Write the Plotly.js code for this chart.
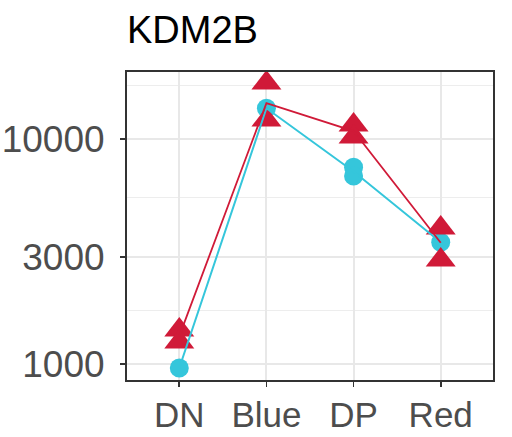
<!DOCTYPE html>
<html>
<head>
<meta charset="utf-8">
<script src="https://cdn.plot.ly/plotly-3.0.1.min.js"></script>
<style>html,body{margin:0;padding:0;background:#fff}#chart{width:512px;height:437px}</style>
</head>
<body>
<div id="chart"></div>
<script>
// Categories
const categories = ["DN", "Blue", "DP", "Red"];

// Replicate points (cyan circles)
const cyanX = ["DN", "Blue", "DP", "DP", "Red"];
const cyanY = [960, 13700, 7500, 6850, 3480];
// Replicate points (red triangles)
const redX = ["DN", "DN", "Blue", "Blue", "DP", "DP", "Red", "Red"];
const redY = [1416, 1252, 17740, 12150, 11540, 10200, 4020, 2900];

// Mean lines
const cyanLine = [960, 13700, 7175, 3480];
const redLine = [1330, 14450, 10850, 3460];

// Tick labels
const yTickVals = [1000, 3000, 10000];
const yTickText = ["1000", "3000", "10000"];
const yMinorVals = [1732, 5477, 17320];

const cyan = "#35C6DB";
const red = "#D01A38";

const traces = [
  {x: cyanX, y: cyanY, type: "scatter", mode: "markers",
   marker: {symbol: "circle", size: 19, color: cyan, line: {width: 0}}, showlegend: false, hoverinfo: "skip"},
  {x: redX, y: redY, type: "scatter", mode: "markers",
   marker: {symbol: "triangle-up", size: 26, color: red, line: {width: 0}}, showlegend: false, hoverinfo: "skip"},
  {x: categories, y: cyanLine, type: "scatter", mode: "lines",
   line: {color: cyan, width: 2}, showlegend: false, hoverinfo: "skip"},
  {x: categories, y: redLine, type: "scatter", mode: "lines",
   line: {color: red, width: 1.8}, showlegend: false, hoverinfo: "skip"}
];

const layout = {
  width: 512, height: 437,
  margin: {l: 127, r: 19, t: 72, b: 57},
  paper_bgcolor: "#ffffff", plot_bgcolor: "#ffffff",
  font: {family: "Liberation Sans, Arial, sans-serif", size: 36, color: "#4D4D4D"},
  title: {text: "KDM2B", x: 0, xref: "paper", xanchor: "left", y: 0.932, yref: "container", yanchor: "middle",
          font: {size: 38, color: "#000000", family: "Liberation Sans, Arial, sans-serif"}},
  xaxis: {
    type: "category", categoryorder: "array", categoryarray: categories,
    range: [-0.6, 3.6],
    showgrid: true, gridcolor: "#E8E8E8", gridwidth: 2,
    showline: true, mirror: true, linecolor: "#333333", linewidth: 2,
    ticks: "outside", ticklen: 5, tickwidth: 1.8, tickcolor: "#333333",
    ticklabelstandoff: -2,
    tickfont: {size: 35, color: "#4D4D4D"}, zeroline: false, fixedrange: true
  },
  yaxis: {
    type: "log", range: [2.929, 4.298],
    tickmode: "array", tickvals: yTickVals, ticktext: yTickText,
    showgrid: true, gridcolor: "#E8E8E8", gridwidth: 2,
    minor: {tickmode: "array", tickvals: yMinorVals, showgrid: true, gridcolor: "#EDEDED", gridwidth: 1.1, ticks: ""},
    showline: true, mirror: true, linecolor: "#333333", linewidth: 2,
    ticks: "outside", ticklen: 5, tickwidth: 1.8, tickcolor: "#333333",
    ticklabelstandoff: 8,
    tickfont: {size: 37, color: "#4D4D4D"}, zeroline: false, fixedrange: true
  }
};

Plotly.newPlot("chart", traces, layout, {staticPlot: true, displayModeBar: false});
</script>
</body>
</html>
